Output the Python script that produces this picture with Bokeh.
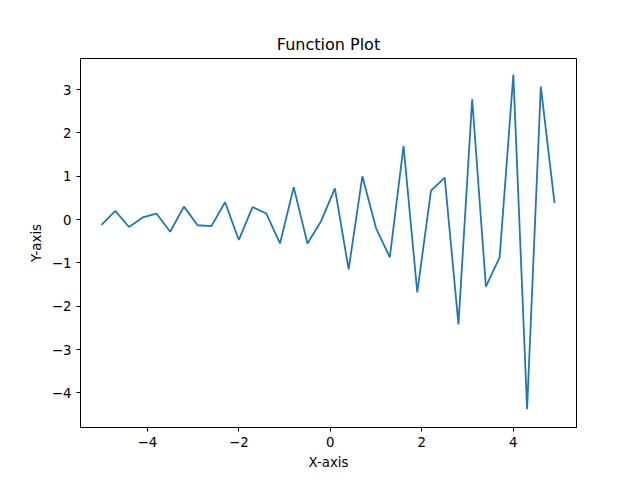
from bokeh.plotting import figure
from bokeh.models import Range1d, FixedTicker
from bokeh.embed import file_html
from bokeh.resources import INLINE

x = [-5.0, -4.7, -4.4, -4.1, -3.8, -3.5, -3.2, -2.9, -2.6, -2.3, -2.0, -1.7, -1.4, -1.1, -0.8, -0.5, -0.2,
     0.1, 0.4, 0.7, 1.0, 1.3, 1.6, 1.9, 2.2, 2.5, 2.8, 3.1, 3.4, 3.7, 4.0, 4.3, 4.6, 4.9]
y = [-0.12, 0.2, -0.17, 0.05, 0.14, -0.28, 0.3, -0.13, -0.15, 0.4, -0.47, 0.29, 0.14, -0.55, 0.75, -0.55, -0.03,
     0.72, -1.15, 1.0, -0.2, -0.87, 1.7, -1.68, 0.67, 0.97, -2.42, 2.78, -1.55, -0.87, 3.35, -4.38, 3.07, 0.38]
xticks = [-4, -2, 0, 2, 4]
yticks = [-4, -3, -2, -1, 0, 1, 2, 3]

p = figure(width=632, height=472, output_backend="svg", toolbar_location=None,
           x_range=Range1d(-5.46, 5.38), y_range=Range1d(-4.80, 3.72),
           title="Function Plot", min_border_left=80, min_border_right=56,
           min_border_top=58, min_border_bottom=45)
p.line(x, y, line_color="#1f77b4", line_width=1.8)

p.title.align = "center"
p.title.text_font = "DejaVu Sans"
p.title.text_font_size = "12pt"
p.title.text_font_style = "normal"
p.title.text_color = "black"
p.xgrid.visible = False
p.ygrid.visible = False
p.outline_line_color = "black"
p.xaxis.ticker = FixedTicker(ticks=xticks)
p.yaxis.ticker = FixedTicker(ticks=yticks)
p.xaxis.axis_label = "X-axis"
p.yaxis.axis_label = "Y-axis"
for ax in (p.xaxis, p.yaxis):
    ax.axis_label_text_font = "DejaVu Sans"
    ax.axis_label_text_font_style = "normal"
    ax.axis_label_text_font_size = "10pt"
    ax.axis_label_text_color = "black"
    ax.major_label_text_font = "DejaVu Sans"
    ax.major_label_text_font_size = "10pt"
    ax.major_label_text_color = "black"
    ax.major_tick_out = 4
    ax.major_tick_in = 0
    ax.minor_tick_line_color = None
    ax.axis_line_color = "black"
    ax.major_tick_line_color = "black"

open("out.html", "w").write(file_html(p, INLINE))
